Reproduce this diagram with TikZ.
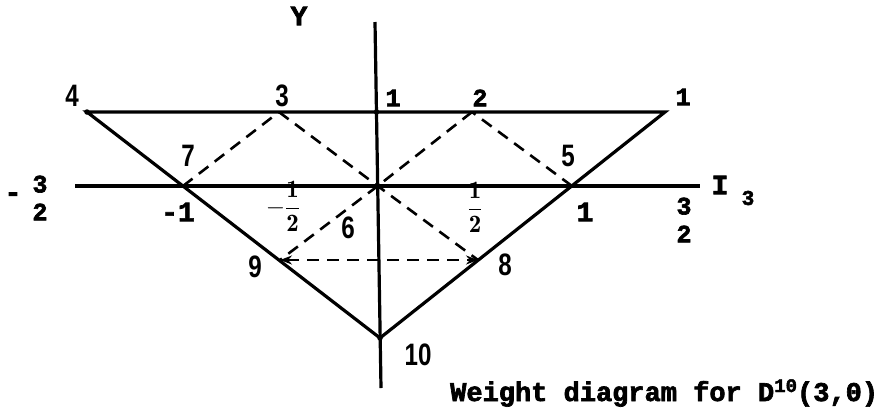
\documentclass[tikz,border=0pt]{standalone}
\usepackage{graphicx}
\usepackage{fontspec}
\setmonofont{Liberation Mono}[BoldFeatures={FakeBold=2.5}]
\newfontfamily\labfont{Liberation Sans}
\usetikzlibrary{arrows.meta}
\newcommand{\talltxt}[1]{\scalebox{0.78}[1]{#1}}
\begin{document}
\begin{tikzpicture}[x=1pt,y=-1pt,
  axline/.style={line width=3.2pt},
  dsh/.style={line width=2.6pt, dash pattern=on 12pt off 8pt},
  tw/.style={inner sep=0pt, font=\fontsize{25}{25}\selectfont\ttfamily\bfseries},
  twbig/.style={inner sep=0pt, font=\fontsize{28}{28}\selectfont\ttfamily\bfseries},
  stk/.style={inner sep=0pt, align=center, font=\fontsize{25}{28}\selectfont\ttfamily\bfseries},
  ls/.style={inner sep=0pt, font=\fontsize{31}{31}\selectfont\labfont\bfseries},
  vdot/.style={circle, fill=black, inner sep=0pt, minimum size=5.5pt},
  halfs/.style={inner sep=0pt, font=\fontsize{25}{25}\selectfont}]
\useasboundingbox (0,0) rectangle (891,408);

% coordinates
\coordinate (ytop) at (375,22);
\coordinate (ybot) at (381,388);
\coordinate (xl) at (75,186);
\coordinate (xr) at (700,186);
\coordinate (p4) at (87,112);
\coordinate (p1) at (665,112);
\coordinate (p3) at (279,112);
\coordinate (p2) at (472,112);
\coordinate (pt1) at (376.5,112);
\coordinate (p7) at (183,186);
\coordinate (p5) at (572,186);
\coordinate (o) at (377.7,186);
\coordinate (p9) at (280,260);
\coordinate (p8) at (478,260);
\coordinate (p10) at (380,338);

% axes
\draw[axline] (ytop) -- (ybot);
\draw[axline] (xl) -- (xr);
% triangle
\draw[axline, line join=miter] (p4) -- (p1) -- (p10) -- cycle;

% dashed lines
\draw[dsh] (p7) -- (p3);
\draw[dsh] (p3) -- (o) -- (p8);
\draw[dsh] (p5) -- (p2);
\draw[dsh] (p2) -- (o) -- (p9);
\draw[dsh, {Stealth[length=12pt,width=9pt]}-{Stealth[length=12pt,width=9pt]}] (p9) -- (p8);

% vertex dots
\node[vdot] (d1) at (pt1) {};
\node[vdot] (d10) at (p10) {};
\node[vdot] (dO) at (o) {};
\node[vdot] (d4) at (p4) {};

% labels
\node[twbig] (lY) at (299,16) {Y};
\node[ls] (l4) at (72,96) {\talltxt{4}};
\node[ls] (l3) at (282,96) {\talltxt{3}};
\node[tw] (l1a) at (393,98) {1};
\node[tw] (l2) at (480,98) {2};
\node[tw] (l1b) at (683,97) {1};
\node[ls] (l7) at (188,156) {\talltxt{7}};
\node[ls] (l5) at (568,156) {\talltxt{5}};
\node[ls] (l6) at (348,228) {\talltxt{6}};
\node[ls] (l9) at (255,267) {\talltxt{9}};
\node[ls] (l8) at (505,265) {\talltxt{8}};
\node[ls] (l10) at (418,355) {\talltxt{10}};

\node[twbig] (lm1) at (178,212) {-1};
\node[twbig] (lp1) at (585,212) {1};
\node[halfs] (lmh) at (283,206) {$\displaystyle-\frac{\mathbf{1}}{\mathbf{2}}$};
\node[halfs] (lph) at (475,207) {$\displaystyle\frac{\mathbf{1}}{\mathbf{2}}$};

% -3/2 and 3/2
\node[twbig] (lm32m) at (13,197) {-};
\node[stk] (lm32) at (40,198) {3\\2};
\node[stk] (l32) at (684,220) {3\\2};

% I3
\node[twbig] (lI) at (720,185) {I};
\node[inner sep=0pt, font=\fontsize{21}{21}\selectfont\ttfamily\bfseries] (lI3) at (748,198) {3};

% caption
\node[inner sep=0pt, anchor=west, font=\fontsize{27}{27}\selectfont\ttfamily\bfseries] (cap) at (450,393)
  {Weight diagram for D\raisebox{9pt}{\fontsize{19}{19}\selectfont 10}(3,0)};
\end{tikzpicture}
\end{document}
